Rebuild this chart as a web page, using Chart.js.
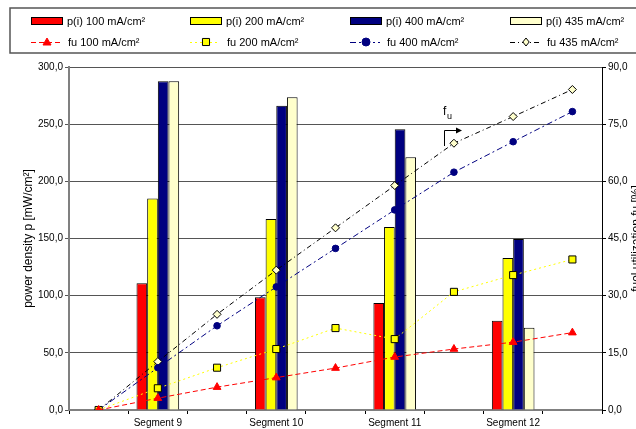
<!DOCTYPE html>
<html>
<head>
<meta charset="utf-8">
<script src="https://cdn.jsdelivr.net/npm/chart.js@4/dist/chart.umd.min.js"></script>
<style>
  html, body { margin: 0; padding: 0; background: #fff; }
  #wrap { width: 636px; height: 429px; }
</style>
</head>
<body>
<div id="wrap"><canvas id="fuelChart" width="636" height="429"></canvas></div>
<script>
const FONT = "'Liberation Sans', Arial, sans-serif"

// categories (9 slots, segments sit on every second one)
const categories = ['', 'Segment 9', '', 'Segment 10', '', 'Segment 11', '', 'Segment 12', '']

// power density bars [mW/cm²]
const p100 = [null, 110.8, null, 98.6, null, 93.5, null, 78, null]
const p200 = [null, 185, null, 167, null, 160, null, 133, null]
const p400 = [null, 287.5, null, 266, null, 245.5, null, 149.6, null]
const p435 = [null, 287.5, null, 273.5, null, 221, null, 72, null]

// fuel utilization lines [%]
const fu100 = [0, 3.1, 6.0, 8.5, 11.0, 13.9, 16.0, 17.8, 20.3]
const fu200 = [0, 5.7, 11.1, 16.0, 21.5, 18.6, 31.0, 35.4, 39.5]
const fu400 = [0, 11.1, 22.1, 32.3, 42.4, 52.5, 62.4, 70.4, 78.3]
const fu435 = [0, 12.7, 25.1, 36.7, 47.8, 58.9, 70.0, 77.0, 84.1]

const fmt = v => v.toFixed(1).replace('.', ',')

const barSet = (label, data, color) => ({
  type: 'bar', label, data, yAxisID: 'y', order: 1,
  backgroundColor: color, borderColor: '#000', borderWidth: 1,
  categoryPercentage: 0.72, barPercentage: 1.0
})

const lineSet = (label, data, color, dash, style, radius, fill, edge) => ({
  type: 'line', label, data, yAxisID: 'y1', order: 0,
  borderColor: color, borderWidth: 1, borderDash: dash, tension: 0,
  pointStyle: style, pointRadius: radius, pointBackgroundColor: fill,
  pointBorderColor: edge, pointBorderWidth: 1, fill: false
})

const datasets = [
  barSet('p(i) 100 mA/cm²', p100, '#ff0000'),
  barSet('p(i) 200 mA/cm²', p200, '#ffff00'),
  barSet('p(i) 400 mA/cm²', p400, '#000080'),
  barSet('p(i) 435 mA/cm²', p435, '#ffffcc'),
  lineSet('fu 100 mA/cm²', fu100, '#ff0000', [5, 3], 'triangle', 4.5, '#ff0000', '#ff0000'),
  lineSet('fu 200 mA/cm²', fu200, '#ffff00', [2, 3], 'rect', 5, '#ffff00', '#000'),
  lineSet('fu 400 mA/cm²', fu400, '#000080', [6, 3, 2, 3], 'circle', 3.3, '#000080', '#000080'),
  lineSet('fu 435 mA/cm²', fu435, '#000', [5, 3, 1, 3], 'rectRot', 4, '#ffffcc', '#000')
]

// marker helper for the legend
function marker (ctx, style, x, y, r, fill, edge) {
  ctx.save()
  ctx.setLineDash([])
  ctx.fillStyle = fill
  ctx.strokeStyle = edge
  ctx.lineWidth = 1
  ctx.beginPath()
  if (style === 'triangle') {
    ctx.moveTo(x, y - r); ctx.lineTo(x + r, y + r * 0.75); ctx.lineTo(x - r, y + r * 0.75); ctx.closePath()
  } else if (style === 'rect') {
    const s = r * Math.SQRT1_2
    ctx.rect(x - s, y - s, 2 * s, 2 * s)
  } else if (style === 'circle') {
    ctx.arc(x, y, r, 0, Math.PI * 2)
  } else {
    ctx.moveTo(x, y - r); ctx.lineTo(x + r * 0.8, y); ctx.lineTo(x, y + r); ctx.lineTo(x - r * 0.8, y); ctx.closePath()
  }
  ctx.fill(); ctx.stroke()
  ctx.restore()
}

const extras = {
  id: 'extras',
  afterDraw (chart) {
    const ctx = chart.ctx
    ctx.save()
    // legend box
    ctx.strokeStyle = '#555'
    ctx.lineWidth = 1.5
    ctx.strokeRect(10, 8, 640, 45)
    const cols = [31, 190, 350, 510]
    ctx.font = '11px ' + FONT
    ctx.fillStyle = '#000'
    ctx.textBaseline = 'middle'
    ctx.textAlign = 'left'
    chart.data.datasets.forEach((ds, i) => {
      const x = cols[i % 4]
      if (ds.type === 'bar') {
        const y = 21
        ctx.fillStyle = ds.backgroundColor
        ctx.fillRect(x, y - 4, 32, 8)
        ctx.strokeStyle = '#000'
        ctx.lineWidth = 1
        ctx.strokeRect(x + 0.5, y - 3.5, 31, 7)
        ctx.fillStyle = '#000'
        ctx.fillText(ds.label, x + 36, y + 1)
      } else {
        const y = 42
        ctx.strokeStyle = ds.borderColor
        ctx.lineWidth = 1
        ctx.setLineDash(ds.borderDash)
        ctx.beginPath(); ctx.moveTo(x, y + 0.5); ctx.lineTo(x + 30, y + 0.5); ctx.stroke()
        ctx.setLineDash([])
        marker(ctx, ds.pointStyle, x + 16, y, ds.pointStyle === 'rect' ? 5 : 4, ds.pointBackgroundColor, ds.pointBorderColor)
        ctx.fillStyle = '#000'
        ctx.fillText(ds.label, x + 37, y + 1)
      }
    })
    // right axis title (reads bottom to top)
    const a = chart.chartArea
    ctx.save()
    ctx.translate(637, (a.top + a.bottom) / 2)
    ctx.rotate(-Math.PI / 2)
    ctx.textAlign = 'center'
    ctx.font = '12px ' + FONT
    ctx.fillStyle = '#000'
    ctx.fillText('fuel utilization fu [%]', 0, 0)
    ctx.restore()
    // f_u annotation with arrow
    ctx.fillStyle = '#000'
    ctx.font = '12px ' + FONT
    ctx.textAlign = 'left'
    ctx.fillText('f', 443, 112)
    ctx.font = '9px ' + FONT
    ctx.fillText('u', 447, 117)
    ctx.strokeStyle = '#000'
    ctx.lineWidth = 1
    ctx.beginPath()
    ctx.moveTo(444.5, 146); ctx.lineTo(444.5, 130.5); ctx.lineTo(458, 130.5)
    ctx.stroke()
    ctx.beginPath()
    ctx.moveTo(462, 130.5); ctx.lineTo(456, 127.5); ctx.lineTo(456, 133.5); ctx.closePath()
    ctx.fill()
    ctx.restore()
  }
}

new Chart('fuelChart', {
  data: { labels: categories, datasets },
  plugins: [extras],
  options: {
    responsive: false,
    animation: false,
    layout: { padding: { top: 67, left: 0, right: 0, bottom: 0 } },
    plugins: {
      legend: { display: false },
      tooltip: { enabled: false }
    },
    scales: {
      x: {
        grid: { display: true, drawOnChartArea: false, drawTicks: true, tickLength: 4, color: '#000', offset: true },
        border: { color: '#808080', width: 2 },
        ticks: { autoSkip: false, maxRotation: 0, padding: 3, color: '#000', font: { family: FONT, size: 10 } },
        afterFit: scale => { scale.height = 19 }
      },
      y: {
        position: 'left',
        min: 0, max: 300,
        ticks: { stepSize: 50, padding: 2, color: '#000', font: { family: FONT, size: 10 }, callback: v => fmt(v) },
        grid: { color: '#555', tickLength: 4 },
        border: { color: '#808080', width: 2 },
        title: { display: true, text: 'power density p [mW/cm²]', color: '#000', font: { family: FONT, size: 12 }, padding: { top: 21, bottom: 0 } },
        afterFit: scale => { scale.width = 69 }
      },
      y1: {
        position: 'right',
        min: 0, max: 90,
        ticks: { stepSize: 15, padding: 2, color: '#000', font: { family: FONT, size: 10 }, callback: v => fmt(v) },
        grid: { drawOnChartArea: false, color: '#000', tickLength: 4 },
        border: { color: '#000', width: 1 },
        afterFit: scale => { scale.width = 34 }
      }
    }
  }
})
</script>
</body>
</html>
